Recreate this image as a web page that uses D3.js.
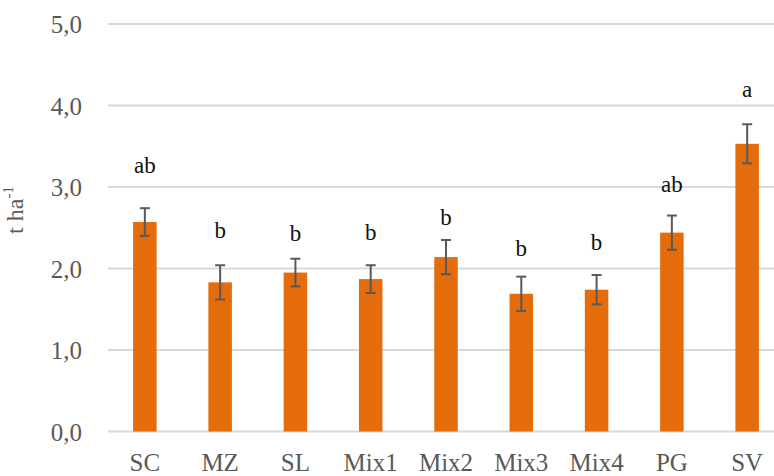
<!DOCTYPE html>
<html>
<head>
<meta charset="utf-8">
<script src="https://cdn.jsdelivr.net/npm/d3@7"></script>
<style>
  html, body { margin: 0; padding: 0; background: #ffffff; }
  svg { display: block; }
  svg text { font-family: "Liberation Serif", "Times New Roman", serif; }
</style>
</head>
<body>
<svg id="chart" width="774" height="476"></svg>
<script>
// Yield by treatment (t ha-1): means, standard errors and significance letters
const categories = ["SC", "MZ", "SL", "Mix1", "Mix2", "Mix3", "Mix4", "PG", "SV"];
const means      = [2.57, 1.83, 1.95, 1.87, 2.14, 1.69, 1.74, 2.44, 3.53];
const errors     = [0.17, 0.21, 0.17, 0.17, 0.21, 0.21, 0.18, 0.21, 0.24];
const letters    = ["ab", "b", "b", "b", "b", "b", "b", "ab", "a"];
// height (in t ha-1) at which each letter sits
const letterAt   = [3.17, 2.37, 2.34, 2.35, 2.53, 2.15, 2.23, 2.94, 4.11];
const yTicks     = [0, 1, 2, 3, 4, 5];

const rows = categories.map((c, i) => ({
  cat: c, mean: means[i], err: errors[i], letter: letters[i], at: letterAt[i]
}));

const svg = d3.select("#chart");

const x = d3.scaleBand().domain(categories).range([107.2, 784.8]).padding(0);
const y = d3.scaleLinear().domain([0, 5]).range([431.5, 24]);
const barW = 23.5;

// horizontal gridlines
svg.append("g")
  .selectAll("line")
  .data(yTicks)
  .join("line")
  .attr("x1", 108).attr("x2", 790)
  .attr("y1", d => y(d)).attr("y2", d => y(d))
  .attr("stroke", "#d9d9d9")
  .attr("stroke-width", 1.8);

// y axis labels
const yAxis = d3.axisLeft(y)
  .tickValues(yTicks)
  .tickSize(0)
  .tickPadding(0)
  .tickFormat(d => d3.format(".1f")(d).replace(".", ","));
const gy = svg.append("g").attr("transform", "translate(82,0)").call(yAxis);
gy.attr("font-family", null).attr("font-size", null);
gy.select(".domain").remove();
gy.selectAll("text")
  .style("font-size", "25px")
  .attr("fill", "#595959")
  .attr("dy", "0.34em");

// x axis labels
const xAxis = d3.axisBottom(x).tickSize(0).tickPadding(0);
const gx = svg.append("g").attr("transform", "translate(0,470.5)").call(xAxis);
gx.attr("font-family", null).attr("font-size", null);
gx.select(".domain").remove();
gx.selectAll("text")
  .style("font-size", "25px")
  .attr("fill", "#595959")
  .attr("y", 0)
  .attr("dy", 0);

// bars
svg.append("g")
  .selectAll("rect")
  .data(rows)
  .join("rect")
  .attr("x", d => x(d.cat) + x.bandwidth() / 2 - barW / 2)
  .attr("width", barW)
  .attr("y", d => y(d.mean))
  .attr("height", d => y(0) - y(d.mean))
  .attr("fill", "#e46c0a");

// error bars
const eb = svg.append("g")
  .attr("stroke", "#595959")
  .attr("stroke-width", 2)
  .selectAll("g")
  .data(rows)
  .join("g")
  .attr("transform", d => `translate(${x(d.cat) + x.bandwidth() / 2},0)`);
eb.append("line")
  .attr("y1", d => y(d.mean + d.err)).attr("y2", d => y(d.mean - d.err));
eb.append("line")
  .attr("x1", -5).attr("x2", 5)
  .attr("y1", d => y(d.mean + d.err)).attr("y2", d => y(d.mean + d.err));
eb.append("line")
  .attr("x1", -5).attr("x2", 5)
  .attr("y1", d => y(d.mean - d.err)).attr("y2", d => y(d.mean - d.err));

// significance letters
svg.append("g")
  .selectAll("text")
  .data(rows)
  .join("text")
  .attr("x", d => x(d.cat) + x.bandwidth() / 2)
  .attr("y", d => y(d.at))
  .attr("text-anchor", "middle")
  .style("font-size", "23px")
  .attr("fill", "#111111")
  .text(d => d.letter);

// y axis title
const yt = svg.append("text")
  .attr("transform", "translate(23,210) rotate(-90)")
  .attr("text-anchor", "middle")
  .style("font-size", "24px")
  .attr("fill", "#595959");
yt.append("tspan").text("t ha");
yt.append("tspan").style("font-size", "15px").attr("dy", -10).text("-1");
</script>
</body>
</html>
